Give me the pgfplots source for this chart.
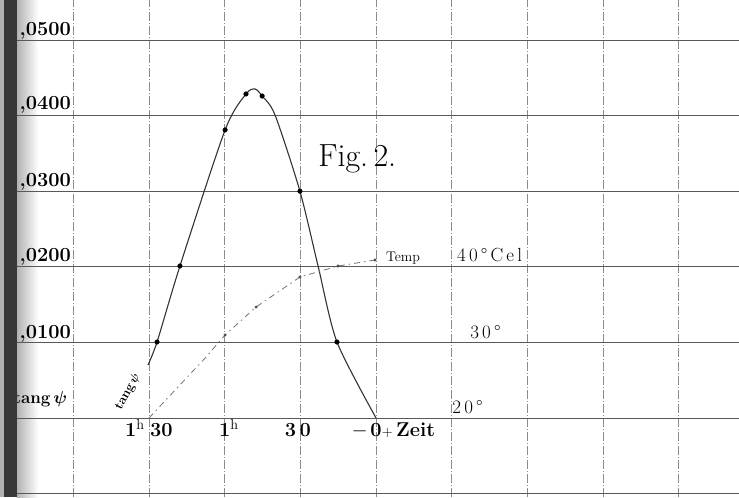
\documentclass[border=0pt]{standalone}
\usepackage{pgfplots}
\usepackage{bm}
\pgfplotsset{compat=1.18}
\begin{document}
\begin{tikzpicture}
\begin{axis}[
  width=739pt, height=497pt, scale only axis,
  xmin=-149.2, xmax=144.0, ymin=-0.01045, ymax=0.05529,
  axis line style={draw=none},
  xtick=\empty, ytick=\empty,
  clip=false,
]
% book binding shadow
\shade[left color=black!30, right color=white] (axis cs:-142.5,-0.01045) rectangle (axis cs:-134.0,0.05529);
% grid
\begin{scope}[black!45, line width=0.8pt, dash pattern=on 9pt off 2pt on 1pt off 2pt]
\draw (axis cs:-120,-0.01045) -- (axis cs:-120,0.05529);
\draw (axis cs:-90,-0.01045) -- (axis cs:-90,0.05529);
\draw (axis cs:-60,-0.01045) -- (axis cs:-60,0.05529);
\draw (axis cs:-30,-0.01045) -- (axis cs:-30,0.05529);
\draw (axis cs:0,-0.01045) -- (axis cs:0,0.05529);
\draw (axis cs:30,-0.01045) -- (axis cs:30,0.05529);
\draw (axis cs:60,-0.01045) -- (axis cs:60,0.05529);
\draw (axis cs:90,-0.01045) -- (axis cs:90,0.05529);
\draw (axis cs:120,-0.01045) -- (axis cs:120,0.05529);
\end{scope}
\begin{scope}[black!65, line width=0.9pt]
\draw (axis cs:-142.5,-0.01) -- (axis cs:144,-0.01);
\draw (axis cs:-142.5,0) -- (axis cs:144,0);
\draw (axis cs:-142.5,0.01) -- (axis cs:144,0.01);
\draw (axis cs:-142.5,0.02) -- (axis cs:144,0.02);
\draw (axis cs:-142.5,0.03) -- (axis cs:144,0.03);
\draw (axis cs:-142.5,0.04) -- (axis cs:144,0.04);
\draw (axis cs:-142.5,0.05) -- (axis cs:144,0.05);
\end{scope}
% tang psi curve
\addplot[black!80, line width=1.1pt, smooth, tension=0.45] coordinates {
  (-90.5,0.00701) (-86.9,0.01005) (-77.8,0.02011) (-59.9,0.0381)
  (-51.6,0.04286) (-48.0,0.04352) (-45.2,0.04259) (-40.1,0.0401)
  (-30.2,0.0300) (-23.0,0.0201) (-15.5,0.01005) (0,0)
};
\addplot[only marks, mark=*, mark size=2.3pt, black] coordinates {
  (-86.9,0.01005) (-77.8,0.02011) (-59.9,0.0381) (-51.6,0.04286)
  (-45.2,0.04259) (-30.2,0.0300) (-15.5,0.01005)
};
% temperature curve (20 deg at 0, 10 deg per 0.01)
\addplot[black!55, line width=0.8pt, dash pattern=on 6pt off 4pt on 1.5pt off 4pt] coordinates {
  (-90.1,0) (-67.9,0.0079) (-59.9,0.01098) (-47.6,0.01468)
  (-30.2,0.01865) (-15.1,0.0201) (-0.4,0.0209)
};
\addplot[only marks, mark=*, mark size=1.3pt, black!70] coordinates {
  (-59.9,0.01098) (-47.6,0.01468) (-30.2,0.01865) (-15.1,0.0201) (-0.4,0.0209)
};
% left labels
\begin{scope}[every node/.style={font=\fontsize{20}{22}\selectfont\bfseries, inner sep=0pt, anchor=base east}]
\node at (axis cs:-121.0,0.05066) {,0500};
\node at (axis cs:-121.0,0.04074) {,0400};
\node at (axis cs:-121.0,0.03056) {,0300};
\node at (axis cs:-121.0,0.02064) {,0200};
\node at (axis cs:-121.0,0.01058) {,0100};
\node[font=\fontsize{17}{20}\selectfont\bfseries] at (axis cs:-122.5,0.00198) {tang\,$\bm{\psi}$};
\end{scope}
% x labels
\begin{scope}[every node/.style={font=\fontsize{20}{22}\selectfont\bfseries, inner sep=0pt}]
\node[anchor=base east] at (axis cs:-91.7,-0.00251) {1$^{\mathrm{h}}$};
\node[anchor=base west] at (axis cs:-89.7,-0.00251) {30};
\node[anchor=base west] at (axis cs:-62.3,-0.00251) {1$^{\mathrm{h}}$};
\node[anchor=base] at (axis cs:-31.0,-0.00251) {3\,0};
\node[anchor=base east] at (axis cs:-3.2,-0.00251) {$-$};
\node[anchor=base] at (axis cs:0,-0.00251) {0};
\node[anchor=base west] at (axis cs:2.2,-0.00251) {$\scriptstyle+$\,Zeit};
\end{scope}
% Fig. 2.
\node[anchor=base west, inner sep=0pt, font=\fontsize{32}{36}\selectfont] at (axis cs:-23.0,0.03333) {Fig.\,2.};
% temperature labels
\node[anchor=base west, inner sep=0pt, font=\fontsize{14}{16}\selectfont] at (axis cs:3.9,0.02064) {Temp};
\begin{scope}[every node/.style={font=\fontsize{19}{22}\selectfont, inner sep=0pt, anchor=base west}]
\node at (axis cs:32.1,0.02064) {4\,0\,\textdegree\,C\,e\,l};
\node at (axis cs:37.3,0.01058) {3\,0\,\textdegree};
\node at (axis cs:30.2,0.00066) {2\,0\,\textdegree};
\end{scope}
\node[rotate=62, inner sep=0pt, font=\fontsize{13}{15}\selectfont\bfseries] at (axis cs:-98.4,0.00344) {tang\,$\bm{\psi}$};
% binding (dark strip)
\fill[black!30] (axis cs:-149.2,-0.01045) rectangle (axis cs:-147.6,0.05529);
\fill[black!78] (axis cs:-147.6,-0.01045) rectangle (axis cs:-142.5,0.05529);
\end{axis}
\pgfresetboundingbox
\path[use as bounding box] (current axis.south west) rectangle (current axis.north east);
\end{tikzpicture}
\end{document}
